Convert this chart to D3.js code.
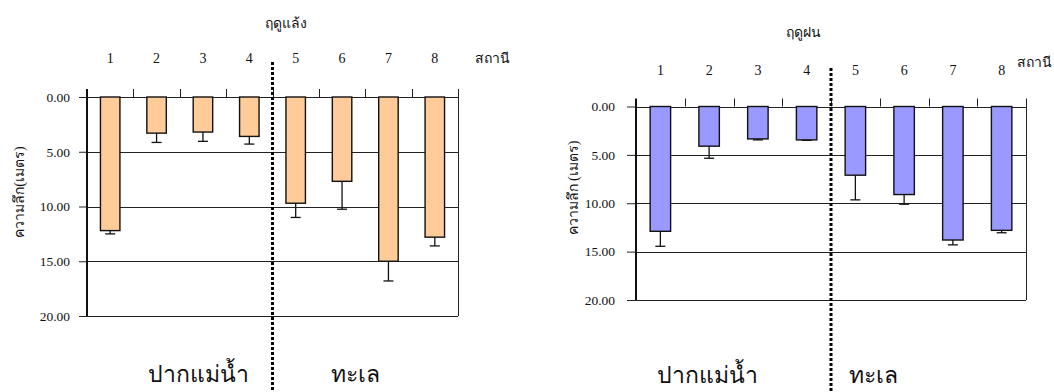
<!DOCTYPE html>
<html>
<head>
<meta charset="utf-8">
<script src="https://cdn.jsdelivr.net/npm/d3@7"></script>
<style>
  html, body { margin: 0; padding: 0; background: #fff; }
  svg { display: block; }
  text { font-family: "Liberation Serif", "Times New Roman", serif; fill: #111; }
</style>
</head>
<body>
<svg id="chart" width="1054" height="392"></svg>
<script>
// Stations along the transect, estuary (1-4) and sea (5-8)
const stations = ["1", "2", "3", "4", "5", "6", "7", "8"];
const depthTicks = [0, 5, 10, 15, 20];

// Dry season mean depth (m) and mean + SD
const dryDepth = [12.2, 3.3, 3.2, 3.6, 9.7, 7.7, 15.0, 12.8];
const dryUpper = [12.5, 4.15, 4.05, 4.3, 11.0, 10.25, 16.8, 13.6];

// Rainy season mean depth (m) and mean + SD
const wetDepth = [12.9, 4.1, 3.35, 3.45, 7.1, 9.1, 13.8, 12.8];
const wetUpper = [14.45, 5.35, 3.45, 3.5, 9.65, 10.1, 14.3, 13.05];

const svg = d3.select("#chart");

function drawPanel(cfg) {
  const g = svg.append("g");
  const x = d3.scaleBand().domain(stations).range([cfg.left, cfg.right]).paddingInner(0).paddingOuter(0);
  const y = d3.scaleLinear().domain([0, 20]).range([cfg.top, cfg.bottom]);
  const barW = x.bandwidth() * 0.42;

  // horizontal grid lines at every depth tick
  g.selectAll("line.grid").data(depthTicks).join("line")
    .attr("x1", cfg.left).attr("x2", cfg.right)
    .attr("y1", d => Math.round(y(d)) + 0.5).attr("y2", d => Math.round(y(d)) + 0.5)
    .attr("stroke", "#222").attr("stroke-width", 1);

  // right frame edge
  g.append("line")
    .attr("x1", cfg.right + 0.5).attr("x2", cfg.right + 0.5)
    .attr("y1", cfg.top - 8).attr("y2", cfg.bottom)
    .attr("stroke", "#222").attr("stroke-width", 1);

  // depth axis on the left
  const yAxis = d3.axisLeft(y).tickValues(depthTicks).tickFormat(d3.format(".2f"))
    .tickSize(cfg.tickLen).tickPadding(cfg.tickPad);
  const ya = g.append("g").attr("transform", `translate(${cfg.left},0)`).call(yAxis)
    .attr("font-family", null).attr("font-size", null);
  ya.select(".domain").remove();
  ya.selectAll(".tick line").attr("stroke", "#222");
  ya.selectAll(".tick text").style("font-size", "13.5px").attr("fill", "#222");
  g.append("line")
    .attr("x1", cfg.left).attr("x2", cfg.left)
    .attr("y1", cfg.top - 8).attr("y2", cfg.bottom)
    .attr("stroke", "#111").attr("stroke-width", 2);

  // station boundary ticks above the zero line
  g.selectAll("line.sep").data(stations.slice(1)).join("line")
    .attr("x1", d => Math.round(x(d)) + 0.5).attr("x2", d => Math.round(x(d)) + 0.5)
    .attr("y1", cfg.top - 8).attr("y2", cfg.top)
    .attr("stroke", "#222").attr("stroke-width", 1);

  // station numbers
  g.selectAll("text.st").data(stations).join("text")
    .attr("x", d => x(d) + x.bandwidth() / 2)
    .attr("y", cfg.labelY)
    .attr("text-anchor", "middle")
    .style("font-size", "14px")
    .text(d => d);

  // error bars
  const errs = stations.map((s, i) => ({ s, v: cfg.values[i], u: cfg.upper[i] }));
  g.selectAll("line.err").data(errs).join("line")
    .attr("x1", d => x(d.s) + x.bandwidth() / 2).attr("x2", d => x(d.s) + x.bandwidth() / 2)
    .attr("y1", d => y(d.v)).attr("y2", d => y(d.u))
    .attr("stroke", "#111").attr("stroke-width", 1.3);
  g.selectAll("line.cap").data(errs).join("line")
    .attr("x1", d => x(d.s) + x.bandwidth() / 2 - 5).attr("x2", d => x(d.s) + x.bandwidth() / 2 + 5)
    .attr("y1", d => y(d.u)).attr("y2", d => y(d.u))
    .attr("stroke", "#111").attr("stroke-width", 1.3);

  // bars hanging down from the surface
  g.selectAll("rect.bar").data(errs).join("rect")
    .attr("x", d => x(d.s) + (x.bandwidth() - barW) / 2)
    .attr("y", y(0))
    .attr("width", barW)
    .attr("height", d => y(d.v) - y(0))
    .attr("fill", cfg.fill)
    .attr("stroke", "#111").attr("stroke-width", 1.4);

  // season title and station caption
  g.append("text").attr("x", cfg.titleX).attr("y", cfg.titleY)
    .attr("text-anchor", "middle").style("font-size", "14px").style("font-weight", "300").text(cfg.title);
  g.append("text").attr("x", cfg.stationX).attr("y", cfg.stationY)
    .attr("text-anchor", "middle").style("font-size", "14px").style("font-weight", "300").text("สถานี");

  // depth axis title
  g.append("text")
    .attr("transform", `translate(${cfg.yTitleX},${cfg.yTitleY}) rotate(-90)`)
    .attr("text-anchor", "middle").style("font-size", "14px").style("font-weight", "300").text(cfg.yTitle);

  // estuary / sea divider
  const divX = x("5");
  g.append("line")
    .attr("x1", divX).attr("x2", divX)
    .attr("y1", cfg.divTop).attr("y2", 392)
    .attr("stroke", "#000").attr("stroke-width", 3).attr("stroke-dasharray", "3,2");

  // zone names
  g.append("text").attr("x", cfg.zoneX[0]).attr("y", cfg.zoneY)
    .attr("text-anchor", "middle").style("font-size", "23px").style("font-weight", "300").text("ปากแม่น้ำ");
  g.append("text").attr("x", cfg.zoneX[1]).attr("y", cfg.zoneY)
    .attr("text-anchor", "middle").style("font-size", "23px").style("font-weight", "300").text("ทะเล");
}

drawPanel({
  left: 87, right: 458, top: 97, bottom: 316,
  values: dryDepth, upper: dryUpper, fill: "#FFCC99",
  tickLen: 8, tickPad: 9,
  labelY: 63, title: "ฤดูแล้ง", titleX: 286, titleY: 28,
  stationX: 492, stationY: 63,
  yTitle: "ความลึก(เมตร)", yTitleX: 24, yTitleY: 192,
  divTop: 62, zoneX: [198, 355], zoneY: 382
});

drawPanel({
  left: 636, right: 1026, top: 106.5, bottom: 300,
  values: wetDepth, upper: wetUpper, fill: "#9999FF",
  tickLen: 9, tickPad: 12,
  labelY: 75, title: "ฤดูฝน", titleX: 803, titleY: 37,
  stationX: 1034, stationY: 67,
  yTitle: "ความลึก (เมตร)", yTitleX: 578, yTitleY: 188,
  divTop: 68, zoneX: [707, 873], zoneY: 383
});
</script>
</body>
</html>
